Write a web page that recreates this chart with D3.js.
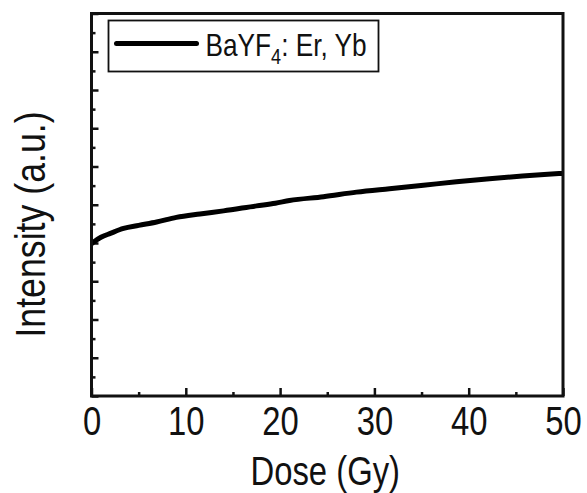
<!DOCTYPE html>
<meta charset="utf-8">
<script src="https://d3js.org/d3.v7.min.js"></script>
<style>
  body { margin: 0; background: #fff; }
  text { font-family: "Liberation Sans", Arial, sans-serif; fill: #111; }
</style>
<div id="my_dataviz"></div>
<script>
// values
const dose = [0, 0.2, 1, 2, 3.4, 5, 6.9, 9, 11.5, 14, 17.5, 19.5, 21, 24.6, 28.1, 31.6, 35.2, 38.7, 42.2, 45.7, 48, 50]
const intensity = [3.98, 4.02, 4.15, 4.25, 4.38, 4.46, 4.55, 4.67, 4.76, 4.84, 4.97, 5.04, 5.11, 5.21, 5.33, 5.42, 5.51, 5.6, 5.68, 5.75, 5.79, 5.82]
const xMajor = [0, 10, 20, 30, 40, 50]
const xMinor = [5, 15, 25, 35, 45]
const yMajor = [0, 1, 2, 3, 4, 5, 6, 7, 8, 9, 10]
const yMinor = [0.5, 1.5, 2.5, 3.5, 4.5, 5.5, 6.5, 7.5, 8.5, 9.5]
const seriesName = "BaYF"

// no narrow font installed, so squeeze a normal one
const NARROW = "scale(0.8,1)"

// set the dimensions and margins of the graph
var margin = { top: 13.5, right: 24, bottom: 97, left: 91.5 },
    width = 587 - margin.left - margin.right,
    height = 493 - margin.top - margin.bottom;

var svg = d3.select("#my_dataviz")
    .append("svg")
    .attr("width", 587)
    .attr("height", 493)
    .append("g")
    .attr("transform", "translate(" + margin.left + "," + margin.top + ")");

var x = d3.scaleLinear().domain([0, 50]).range([0, width])
var y = d3.scaleLinear().domain([0, 10]).range([height, 0])

// x axis: major ticks with labels, minor ticks without
svg.append("g")
    .attr("transform", "translate(0," + height + ")")
    .call(d3.axisBottom(x).tickValues(xMajor).tickSize(-8).tickPadding(10).tickFormat(d3.format("d")))
    .call(g => g.select(".domain").remove())
    .call(g => g.selectAll("line").attr("stroke", "#111").attr("stroke-width", 2.5))
    .call(g => g.selectAll("text").attr("font-size", 41).attr("font-family", null).attr("transform", NARROW))

svg.append("g")
    .attr("transform", "translate(0," + height + ")")
    .call(d3.axisBottom(x).tickValues(xMinor).tickSize(-4).tickFormat(""))
    .call(g => g.select(".domain").remove())
    .call(g => g.selectAll("line").attr("stroke", "#111").attr("stroke-width", 2.5))

// y axis: ticks only
svg.append("g")
    .call(d3.axisLeft(y).tickValues(yMajor).tickSize(-7).tickFormat(""))
    .call(g => g.select(".domain").remove())
    .call(g => g.selectAll("line").attr("stroke", "#111").attr("stroke-width", 2.5))

svg.append("g")
    .call(d3.axisLeft(y).tickValues(yMinor).tickSize(-4).tickFormat(""))
    .call(g => g.select(".domain").remove())
    .call(g => g.selectAll("line").attr("stroke", "#111").attr("stroke-width", 2.5))

// the curve
var pts = dose.map((d, i) => [d, intensity[i]])
svg.append("path")
    .datum(pts)
    .attr("fill", "none")
    .attr("stroke", "#000")
    .attr("stroke-width", 5)
    .attr("stroke-linejoin", "round")
    .attr("d", d3.line().x(d => x(d[0])).y(d => y(d[1])).curve(d3.curveMonotoneX))

// frame
svg.append("rect")
    .attr("x", 0).attr("y", 0)
    .attr("width", width).attr("height", height)
    .attr("fill", "none")
    .attr("stroke", "#111")
    .attr("stroke-width", 3)

// legend
var leg = svg.append("g").attr("transform", "translate(17,7)")
leg.append("rect")
    .attr("width", 270).attr("height", 51)
    .attr("fill", "#fff")
    .attr("stroke", "#111")
    .attr("stroke-width", 1.8)
leg.append("line")
    .attr("x1", 8).attr("x2", 88)
    .attr("y1", 23).attr("y2", 23)
    .attr("stroke", "#000")
    .attr("stroke-width", 5)
    .attr("stroke-linecap", "round")
var lt = leg.append("g").attr("transform", "translate(97,35) scale(0.82,1)")
    .append("text")
    .attr("font-size", 32)
lt.append("tspan").text(seriesName)
lt.append("tspan").text("4").attr("font-size", 22).attr("dy", 8)
lt.append("tspan").text(": Er, Yb").attr("dy", -8)

// axis titles
svg.append("text")
    .attr("transform", "translate(" + (width / 2 - 2) + "," + (height + 89) + ") " + NARROW)
    .attr("text-anchor", "middle")
    .attr("font-size", 41)
    .text("Dose (Gy)")

svg.append("text")
    .attr("transform", "translate(-47,211) rotate(-90) scale(0.85,1)")
    .attr("text-anchor", "middle")
    .attr("font-size", 42)
    .text("Intensity (a.u.)")
</script>
